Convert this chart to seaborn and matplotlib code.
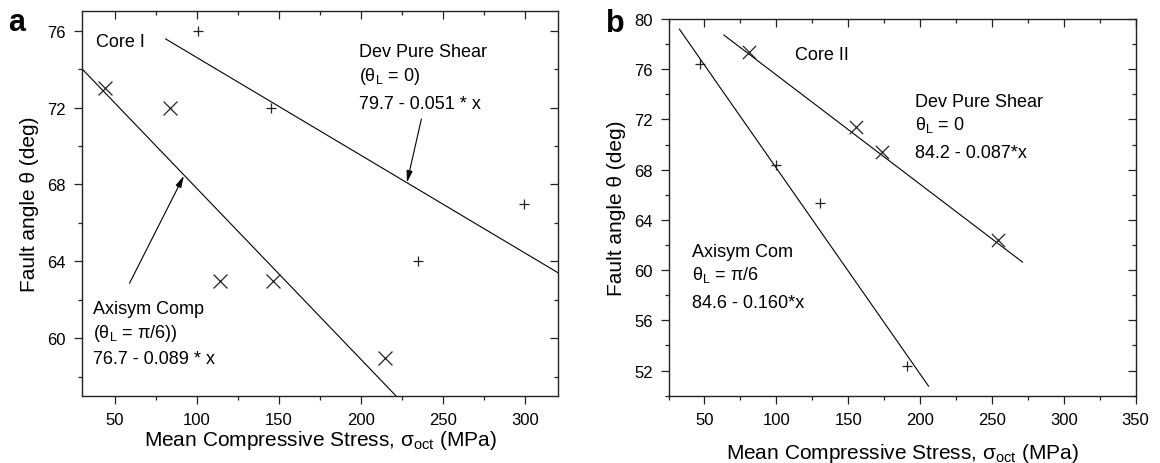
import matplotlib
matplotlib.use('Agg')
import matplotlib.pyplot as plt
import seaborn as sns
from matplotlib.ticker import MultipleLocator, NullFormatter

sns.set_style('ticks')
plt.rcParams['font.family'] = ['Liberation Sans', 'DejaVu Sans']
plt.rcParams['mathtext.fontset'] = 'custom'
plt.rcParams['mathtext.rm'] = 'Liberation Sans'
plt.rcParams['mathtext.it'] = 'Liberation Sans:italic'
plt.rcParams['mathtext.bf'] = 'Liberation Sans:bold'
plt.rcParams['text.color'] = 'black'
plt.rcParams['axes.labelcolor'] = 'black'

# ---------------- Panel a (Core I) ----------------
a_plus_x = [101, 145.5, 299, 234.4]
a_plus_y = [76, 72, 67, 64]
a_cross_x = [44, 84, 114, 146.6, 214.3]
a_cross_y = [73, 72, 63, 63, 59]
a_dev_x = [81, 320]
a_dev_y = [75.57, 63.4]
a_axi_x = [30, 221.3]
a_axi_y = [74.03, 57.0]

# ---------------- Panel b (Core II) ----------------
b_plus_x = [46.7, 99.8, 130.5, 191.2]
b_plus_y = [76.4, 68.4, 65.35, 52.4]
b_cross_x = [80.7, 155.3, 173.8, 253.9]
b_cross_y = [77.4, 71.4, 69.4, 62.4]
b_dev_x = [63.4, 271.4]
b_dev_y = [78.73, 60.63]
b_axi_x = [32.5, 206]
b_axi_y = [79.2, 50.75]

x_label = 'Mean Compressive Stress, σ$_{\\mathrm{oct}}$ (MPa)'
y_label = 'Fault angle θ (deg)'

fig = plt.figure(figsize=(11.6, 4.64), dpi=100)
ax_a = fig.add_axes([0.0704, 0.1444, 0.4109, 0.829])
ax_b = fig.add_axes([0.5763, 0.145, 0.4027, 0.812])

LW = 0.8


def style_axes(ax, xlim, ylim, xmaj, xmin, ymaj, ymin, xlabelpad):
    ax.set_xlim(*xlim)
    ax.set_ylim(*ylim)
    ax.xaxis.set_major_locator(MultipleLocator(xmaj))
    ax.xaxis.set_minor_locator(MultipleLocator(xmin))
    ax.yaxis.set_major_locator(MultipleLocator(ymaj))
    ax.yaxis.set_minor_locator(MultipleLocator(ymin))
    for s in ax.spines.values():
        s.set_visible(True)
        s.set_linewidth(1.0)
        s.set_color('#222222')
    ax.tick_params(which='major', direction='out', length=5.5, width=0.9,
                   labelsize=12, pad=6, colors='#222222', labelcolor='black')
    ax.tick_params(which='minor', direction='out', length=3.2, width=0.9,
                   colors='#222222')
    ax.set_xlabel(x_label, fontsize=15, labelpad=xlabelpad)
    ax.set_ylabel(y_label, fontsize=15, labelpad=6)
    # top and right inward ticks without labels
    top = ax.secondary_xaxis('top')
    top.xaxis.set_major_locator(MultipleLocator(xmaj))
    top.xaxis.set_minor_locator(MultipleLocator(xmin))
    top.xaxis.set_major_formatter(NullFormatter())
    top.tick_params(which='major', direction='in', length=5.5, width=0.9, colors='#222222')
    top.tick_params(which='minor', direction='in', length=3.2, width=0.9, colors='#222222')
    top.spines['top'].set_visible(False)
    right = ax.secondary_yaxis('right')
    right.yaxis.set_major_locator(MultipleLocator(ymaj))
    right.yaxis.set_minor_locator(MultipleLocator(ymin))
    right.yaxis.set_major_formatter(NullFormatter())
    right.tick_params(which='major', direction='in', length=5.5, width=0.9, colors='#222222')
    right.tick_params(which='minor', direction='in', length=3.2, width=0.9, colors='#222222')
    right.spines['right'].set_visible(False)


# ---- Panel a drawing ----
sns.lineplot(x=a_dev_x, y=a_dev_y, ax=ax_a, color='black', lw=LW, sort=False, estimator=None)
sns.lineplot(x=a_axi_x, y=a_axi_y, ax=ax_a, color='black', lw=LW, sort=False, estimator=None)
sns.scatterplot(x=a_plus_x, y=a_plus_y, ax=ax_a, marker='+', s=50, color='#222222', linewidth=0.9, zorder=3)
sns.scatterplot(x=a_cross_x, y=a_cross_y, ax=ax_a, marker='x', s=100, color='#222222', linewidth=0.9, zorder=3)
style_axes(ax_a, (30, 320), (57, 77), 50, 25, 4, 2, 1)

tf = 13
ax_a.text(38.5, 75.22, 'Core I', fontsize=tf, ha='left', va='baseline')
ax_a.text(198.5, 74.66, 'Dev Pure Shear', fontsize=tf, ha='left', va='baseline')
ax_a.text(198.5, 73.45, '(θ$_{\\mathrm{L}}$ = 0)', fontsize=tf, ha='left', va='baseline')
ax_a.text(198.5, 71.98, '79.7 - 0.051 * x', fontsize=tf, ha='left', va='baseline')
ax_a.text(36.9, 61.30, 'Axisym Comp', fontsize=tf, ha='left', va='baseline')
ax_a.text(36.9, 60.09, '(θ$_{\\mathrm{L}}$ = π/6))', fontsize=tf, ha='left', va='baseline')
ax_a.text(36.9, 58.70, '76.7 - 0.089 * x', fontsize=tf, ha='left', va='baseline')
arrow = dict(arrowstyle='-|>,head_length=0.7,head_width=0.18', color='black', lw=0.8,
             shrinkA=0, shrinkB=0)
ax_a.annotate('', xy=(227.9, 68.1), xytext=(236.7, 71.4), arrowprops=arrow)
ax_a.annotate('', xy=(92.2, 68.45), xytext=(59.1, 62.86), arrowprops=arrow)

# ---- Panel b drawing ----
sns.lineplot(x=b_dev_x, y=b_dev_y, ax=ax_b, color='black', lw=LW, sort=False, estimator=None)
sns.lineplot(x=b_axi_x, y=b_axi_y, ax=ax_b, color='black', lw=LW, sort=False, estimator=None)
sns.scatterplot(x=b_plus_x, y=b_plus_y, ax=ax_b, marker='+', s=45, color='#222222', linewidth=0.9, zorder=3)
sns.scatterplot(x=b_cross_x, y=b_cross_y, ax=ax_b, marker='x', s=90, color='#222222', linewidth=0.9, zorder=3)
style_axes(ax_b, (25, 350), (50, 80), 50, 25, 4, 2, 10)

ax_b.text(112.7, 76.82, 'Core II', fontsize=tf, ha='left', va='baseline')
ax_b.text(196.3, 73.10, 'Dev Pure Shear', fontsize=tf, ha='left', va='baseline')
ax_b.text(196.3, 71.24, 'θ$_{\\mathrm{L}}$ = 0', fontsize=tf, ha='left', va='baseline')
ax_b.text(196.3, 68.99, '84.2 - 0.087*x', fontsize=tf, ha='left', va='baseline')
ax_b.text(41, 61.15, 'Axisym Com', fontsize=tf, ha='left', va='baseline')
ax_b.text(41, 59.30, 'θ$_{\\mathrm{L}}$ = π/6', fontsize=tf, ha='left', va='baseline')
ax_b.text(41, 57.05, '84.6 - 0.160*x', fontsize=tf, ha='left', va='baseline')

# panel letters
fig.text(16.7 / 1160, 1 - 23 / 464, 'a', fontsize=22, fontweight='bold', ha='center', va='center')
fig.text(615 / 1160, 1 - 23.5 / 464, 'b', fontsize=22, fontweight='bold', ha='center', va='center')

fig.savefig('out.png', dpi=100)
